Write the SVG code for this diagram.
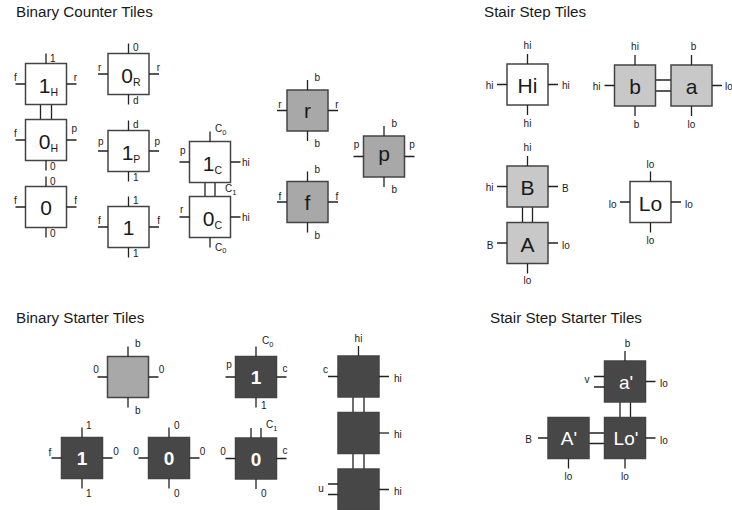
<svg xmlns="http://www.w3.org/2000/svg" width="732" height="510" viewBox="0 0 732 510">
<style>
text{font-family:"Liberation Sans",Arial,Helvetica,sans-serif;fill:#1a1a1a}
.title{font-size:15.2px}
.l{font-size:10px}
.m{text-anchor:middle}
.e{text-anchor:end}
.main{font-size:21px;text-anchor:middle}
.sub{font-size:10.5px}
.ssub{font-size:7.5px}
.wt{fill:#fff;font-size:19px;text-anchor:middle}
.bd{font-weight:bold}
.box{stroke:#444;stroke-width:1.5}
.w{fill:#fff}.g{fill:#a8a8a8}.lg{fill:#c8c8c8}.dk{fill:#474747}
.s{stroke:#222;stroke-width:1.3;fill:none}
.bond{stroke:#222;stroke-width:1.3;fill:none}
</style>
<defs><rect id="t" width="41" height="41"/></defs>

<g id="titles">
<text class="title" x="16" y="17">Binary Counter Tiles</text>
<text class="title" x="484" y="17">Stair Step Tiles</text>
<text class="title" x="16" y="323">Binary Starter Tiles</text>
<text class="title" x="490" y="323">Stair Step Starter Tiles</text>
</g>

<g id="connectors">
<path class="bond" d="M40.5 104.5V119.5M51.5 104.5V119.5"/>
<path class="bond" d="M205 182.5V196.5M215 182.5V196.5"/>
<path class="bond" d="M655.5 80H671M655.5 91H671"/>
<path class="bond" d="M522.5 207V222.5M532.5 207V222.5"/>
<path class="bond" d="M353 397V412.5M364 397V412.5M353 453.5V469M364 453.5V469"/>
<path class="bond" d="M589 433H604.5M589 443.5H604.5M620 402V417.5M630.5 402V417.5"/>
</g>
<text class="l" x="225" y="192">C<tspan class="ssub" dy="2.5">1</tspan></text>

<!-- Binary Counter Tiles -->
<g id="tile-1H">
<use href="#t" x="25.5" y="63.5" class="box w"/>
<path class="s" d="M46 53.5V63.5M15.5 84H25.5M66.5 84H76.5"/>
<text class="l" x="50" y="61.5">1</text>
<text class="l" x="14" y="81">f</text>
<text class="l e" x="77" y="81">r</text>
<text class="main" x="48.5" y="93">1<tspan class="sub" dy="3">H</tspan></text>
</g>
<g id="tile-0H">
<use href="#t" x="25.5" y="119.5" class="box w"/>
<path class="s" d="M15.5 140H25.5M66.5 140H76.5M46 160.5V170.5"/>
<text class="l" x="14" y="137">f</text>
<text class="l e" x="77" y="132">p</text>
<text class="l" x="50" y="170">0</text>
<text class="main" x="48.5" y="149">0<tspan class="sub" dy="3">H</tspan></text>
</g>
<g id="tile-0">
<use href="#t" x="25.5" y="186.5" class="box w"/>
<path class="s" d="M46 176.5V186.5M15.5 207H25.5M66.5 207H76.5M46 227.5V237.5"/>
<text class="l" x="50" y="185">0</text>
<text class="l" x="14" y="204">f</text>
<text class="l e" x="77" y="204">f</text>
<text class="l" x="50" y="236.5">0</text>
<text class="main" x="46" y="215">0</text>
</g>
<g id="tile-0R">
<use href="#t" x="108" y="53.5" class="box w"/>
<path class="s" d="M128.5 43.5V53.5M98 74H108M149 74H159M128.5 94.5V104.5"/>
<text class="l" x="133" y="50.5">0</text>
<text class="l" x="98" y="71">r</text>
<text class="l e" x="160" y="71">r</text>
<text class="l" x="133" y="103.5">d</text>
<text class="main" x="131" y="83">0<tspan class="sub" dy="3">R</tspan></text>
</g>
<g id="tile-1P">
<use href="#t" x="108" y="130.5" class="box w"/>
<path class="s" d="M128.5 120.5V130.5M98 151H108M149 151H159M128.5 171.5V181.5"/>
<text class="l" x="133" y="127.5">d</text>
<text class="l" x="98" y="145">p</text>
<text class="l e" x="160" y="145">p</text>
<text class="l" x="133" y="180.5">1</text>
<text class="main" x="131" y="160">1<tspan class="sub" dy="3">P</tspan></text>
</g>
<g id="tile-1">
<use href="#t" x="108" y="206.5" class="box w"/>
<path class="s" d="M128.5 196.5V206.5M98 227H108M149 227H159M128.5 247.5V257.5"/>
<text class="l" x="133" y="204">1</text>
<text class="l" x="98" y="224">f</text>
<text class="l e" x="160" y="224">f</text>
<text class="l" x="133" y="256.5">1</text>
<text class="main" x="128.5" y="235">1</text>
</g>
<g id="tile-1C">
<use href="#t" x="189.5" y="141.5" class="box w"/>
<path class="s" d="M210 131.5V141.5M179.5 162H189.5M230.5 162H240.5"/>
<text class="l" x="215" y="132">C<tspan class="ssub" dy="2.5">0</tspan></text>
<text class="l" x="180" y="154">p</text>
<text class="l" x="242" y="165.5">hi</text>
<text class="main" x="212.5" y="171">1<tspan class="sub" dy="3">C</tspan></text>
</g>
<g id="tile-0C">
<use href="#t" x="189.5" y="196.5" class="box w"/>
<path class="s" d="M179.5 217H189.5M230.5 217H240.5M210 237.5V247.5"/>
<text class="l" x="180" y="213">r</text>
<text class="l" x="242" y="220.5">hi</text>
<text class="l" x="215" y="250.5">C<tspan class="ssub" dy="2.5">0</tspan></text>
<text class="main" x="212.5" y="226">0<tspan class="sub" dy="3">C</tspan></text>
</g>
<g id="tile-r">
<use href="#t" x="287" y="90" class="box g"/>
<path class="s" d="M307.5 80V90M277 110.5H287M328 110.5H338M307.5 131V141"/>
<text class="l" x="314.5" y="81">b</text>
<text class="l m" x="280" y="107.5">r</text>
<text class="l m" x="337" y="107.5">r</text>
<text class="l" x="314.5" y="147">b</text>
<text class="main" x="307.5" y="118">r</text>
</g>
<g id="tile-f">
<use href="#t" x="287" y="181.5" class="box g"/>
<path class="s" d="M307.5 171.5V181.5M277 202H287M328 202H338M307.5 222.5V232.5"/>
<text class="l" x="314.5" y="172.5">b</text>
<text class="l m" x="280" y="199.5">f</text>
<text class="l m" x="337" y="199.5">f</text>
<text class="l" x="314.5" y="238.5">b</text>
<text class="main" x="307.5" y="210">f</text>
</g>
<g id="tile-p">
<use href="#t" x="363.5" y="136" class="box g"/>
<path class="s" d="M384 126V136M353.5 156.5H363.5M404.5 156.5H414.5M384 177V187"/>
<text class="l" x="391.5" y="127">b</text>
<text class="l m" x="356.5" y="148">p</text>
<text class="l m" x="412" y="148">p</text>
<text class="l" x="391.5" y="193">b</text>
<text class="main" x="384" y="161">p</text>
</g>

<!-- Stair Step Tiles -->
<g id="tile-Hi">
<use href="#t" x="507" y="64" class="box w"/>
<path class="s" d="M527.5 54V64M527.5 105V115M497 84.5H507M548 84.5H558"/>
<text class="l m" x="527.5" y="48.5">hi</text>
<text class="l m" x="527.5" y="126.5">hi</text>
<text class="l e" x="493.5" y="89">hi</text>
<text class="l" x="562" y="89">hi</text>
<text class="main" x="527.5" y="93">Hi</text>
</g>
<g id="tile-b">
<use href="#t" x="614.5" y="65" class="box lg"/>
<path class="s" d="M635 55V65M604.5 85.5H614.5M635 106V116"/>
<text class="l m" x="635" y="49.5">hi</text>
<text class="l e" x="600.5" y="90">hi</text>
<text class="l m" x="636.5" y="127.5">b</text>
<text class="main" x="635" y="94">b</text>
</g>
<g id="tile-a">
<use href="#t" x="671" y="65" class="box lg"/>
<path class="s" d="M691.5 55V65M712 85.5H722M691.5 106V116"/>
<text class="l m" x="693.5" y="49.5">b</text>
<text class="l" x="725" y="90">lo</text>
<text class="l m" x="691.5" y="127.5">lo</text>
<text class="main" x="691.5" y="94">a</text>
</g>
<g id="tile-B">
<use href="#t" x="507" y="166" class="box lg"/>
<path class="s" d="M527.5 156V166M497 186.5H507M548 186.5H558"/>
<text class="l m" x="527.5" y="151">hi</text>
<text class="l e" x="493.5" y="191">hi</text>
<text class="l" x="562" y="191.5">B</text>
<text class="main" x="527.5" y="195">B</text>
</g>
<g id="tile-A">
<use href="#t" x="507" y="222.5" class="box lg"/>
<path class="s" d="M497 243H507M548 243H558M527.5 263.5V273.5"/>
<text class="l e" x="493.5" y="248.5">B</text>
<text class="l" x="562" y="248.5">lo</text>
<text class="l m" x="527.5" y="284">lo</text>
<text class="main" x="527.5" y="251.5">A</text>
</g>
<g id="tile-Lo">
<use href="#t" x="630" y="181.5" class="box w"/>
<path class="s" d="M650.5 171.5V181.5M650.5 222.5V232.5M620 202H630M671 202H681"/>
<text class="l m" x="650.5" y="167.5">lo</text>
<text class="l e" x="616.5" y="207.5">lo</text>
<text class="l" x="685" y="207.5">lo</text>
<text class="l m" x="650.5" y="243.5">lo</text>
<text class="main" x="650.5" y="210.5">Lo</text>
</g>

<!-- Binary Starter Tiles -->
<g id="starter-seed">
<use href="#t" x="107.5" y="356.5" class="box g"/>
<path class="s" d="M128 346.5V356.5M97.5 377H107.5M148.5 377H158.5M128 397.5V407.5"/>
<text class="l" x="135" y="347">b</text>
<text class="l m" x="96" y="373">0</text>
<text class="l m" x="161.5" y="373">0</text>
<text class="l" x="135" y="414">b</text>
</g>
<g id="starter-1f">
<use href="#t" x="61.5" y="437.5" class="box dk"/>
<path class="s" d="M82 427.5V437.5M51.5 458H61.5M102.5 458H112.5M82 478.5V488.5"/>
<text class="l" x="86" y="428.5">1</text>
<text class="l m" x="50" y="455.5">f</text>
<text class="l m" x="116" y="455">0</text>
<text class="l" x="86" y="497">1</text>
<text class="wt bd" x="82" y="465">1</text>
</g>
<g id="starter-0">
<use href="#t" x="148.5" y="437.5" class="box dk"/>
<path class="s" d="M169 427.5V437.5M138.5 458H148.5M189.5 458H199.5M169 478.5V488.5"/>
<text class="l" x="174" y="428.5">0</text>
<text class="l m" x="136" y="455">0</text>
<text class="l m" x="202.5" y="455">0</text>
<text class="l" x="174" y="497">0</text>
<text class="wt bd" x="169" y="465">0</text>
</g>
<g id="starter-1p">
<use href="#t" x="235.5" y="356.5" class="box dk"/>
<path class="s" d="M256 346.5V356.5M225.5 377H235.5M276.5 377H286.5M256 397.5V407.5"/>
<text class="l" x="262" y="344">C<tspan class="ssub" dy="2.5">0</tspan></text>
<text class="l m" x="229" y="367.5">p</text>
<text class="l m" x="285" y="372">c</text>
<text class="l" x="261" y="409">1</text>
<text class="wt bd" x="256" y="384">1</text>
</g>
<g id="starter-0c">
<use href="#t" x="235.5" y="438" class="box dk"/>
<path class="s" d="M251 428V438M261 428V438M225.5 458.5H235.5M276.5 458.5H286.5M256 479V489"/>
<text class="l" x="266" y="428">C<tspan class="ssub" dy="2.5">1</tspan></text>
<text class="l m" x="223" y="455">0</text>
<text class="l m" x="285" y="454">c</text>
<text class="l" x="261" y="497">0</text>
<text class="wt bd" x="256" y="465.5">0</text>
</g>
<g id="starter-col1">
<use href="#t" x="338" y="356" class="box dk"/>
<path class="s" d="M358.5 346V356M328 376.5H338M379 376.5H389"/>
<text class="l m" x="358.5" y="341.5">hi</text>
<text class="l m" x="325.5" y="373">c</text>
<text class="l" x="394" y="381.5">hi</text>
</g>
<g id="starter-col2">
<use href="#t" x="338" y="412.5" class="box dk"/>
<path class="s" d="M379 433H389"/>
<text class="l" x="394" y="438">hi</text>
</g>
<g id="starter-col3">
<use href="#t" x="338" y="469" class="box dk"/>
<path class="s" d="M328 484H338M328 494.5H338M379 489.5H389"/>
<text class="l m" x="321" y="492">u</text>
<text class="l" x="394" y="494.5">hi</text>
</g>

<!-- Stair Step Starter Tiles -->
<g id="tile-a-prime">
<use href="#t" x="604.5" y="361" class="box dk"/>
<path class="s" d="M625 351V361M594 376.5H604.5M594 387H604.5M645.5 381.5H655.5"/>
<text class="l m" x="627.5" y="346.5">b</text>
<text class="l m" x="587" y="383">v</text>
<text class="l" x="660" y="387">lo</text>
<text class="wt" x="626" y="388.5">a'</text>
</g>
<g id="tile-Lo-prime">
<use href="#t" x="604.5" y="417.5" class="box dk"/>
<path class="s" d="M645.5 438H655.5M625 458.5V468.5"/>
<text class="l" x="660" y="443.5">lo</text>
<text class="l m" x="625" y="480">lo</text>
<text class="wt" x="626" y="445">Lo'</text>
</g>
<g id="tile-A-prime">
<use href="#t" x="548" y="417.5" class="box dk"/>
<path class="s" d="M538 438H548M568.5 458.5V468.5"/>
<text class="l e" x="532" y="443">B</text>
<text class="l m" x="568.5" y="480">lo</text>
<text class="wt" x="569" y="445">A'</text>
</g>
</svg>
